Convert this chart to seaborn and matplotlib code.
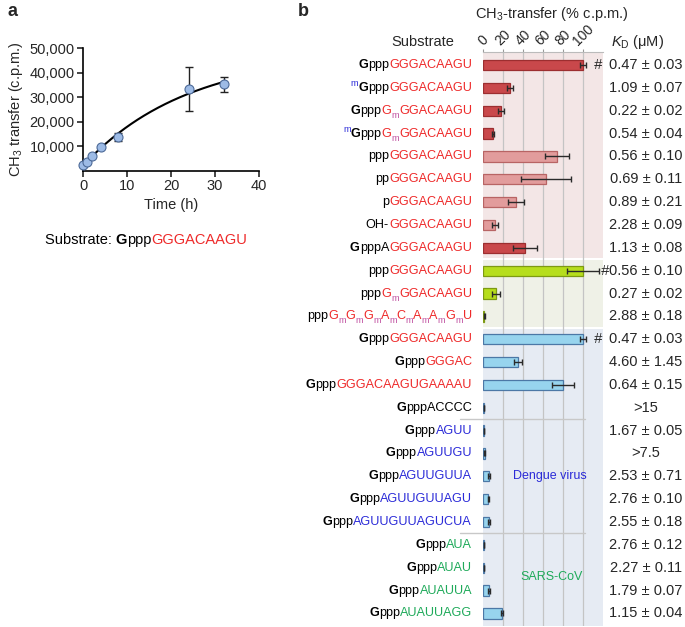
import numpy as np
import pandas as pd
import matplotlib
matplotlib.use('Agg')
import matplotlib.pyplot as plt
import seaborn as sns
from matplotlib.transforms import IdentityTransform
from matplotlib.font_manager import FontProperties

sns.set_style('white')
plt.rcParams['font.family'] = ['Liberation Sans', 'DejaVu Sans']
plt.rcParams['mathtext.fontset'] = 'custom'
plt.rcParams['mathtext.rm'] = 'Liberation Sans'
plt.rcParams['mathtext.it'] = 'Liberation Sans:italic'

# ---- panel a data
time_h = [0, 1, 2, 4, 8, 24, 32]
ch3_cpm = [2400, 3800, 6100, 9900, 13700, 33200, 35200]
ch3_err = [300, 300, 300, 400, 1600, 9000, 3200]

# ---- panel b data
substrates = [
    [('G', 'k', 1, None), ('ppp', 'k', 0, None), ('GGGACAAGU', 'R', 0, None)],
    [('m', 'B', 0, 'sup'), ('G', 'k', 1, None), ('ppp', 'k', 0, None), ('GGGACAAGU', 'R', 0, None)],
    [('G', 'k', 1, None), ('ppp', 'k', 0, None), ('G', 'R', 0, None), ('m', 'M', 0, 'sub'), ('GGACAAGU', 'R', 0, None)],
    [('m', 'B', 0, 'sup'), ('G', 'k', 1, None), ('ppp', 'k', 0, None), ('G', 'R', 0, None), ('m', 'M', 0, 'sub'), ('GGACAAGU', 'R', 0, None)],
    [('ppp', 'k', 0, None), ('GGGACAAGU', 'R', 0, None)],
    [('pp', 'k', 0, None), ('GGGACAAGU', 'R', 0, None)],
    [('p', 'k', 0, None), ('GGGACAAGU', 'R', 0, None)],
    [('OH-', 'k', 0, None), ('GGGACAAGU', 'R', 0, None)],
    [('G', 'k', 1, None), ('pppA', 'k', 0, None), ('GGGACAAGU', 'R', 0, None)],
    [('ppp', 'k', 0, None), ('GGGACAAGU', 'R', 0, None)],
    [('ppp', 'k', 0, None), ('G', 'R', 0, None), ('m', 'M', 0, 'sub'), ('GGACAAGU', 'R', 0, None)],
    [('ppp', 'k', 0, None)] + sum([[(c, 'R', 0, None), ('m', 'M', 0, 'sub')] for c in 'GGGACAAG'], []) + [('U', 'R', 0, None)],
    [('G', 'k', 1, None), ('ppp', 'k', 0, None), ('GGGACAAGU', 'R', 0, None)],
    [('G', 'k', 1, None), ('ppp', 'k', 0, None), ('GGGAC', 'R', 0, None)],
    [('G', 'k', 1, None), ('ppp', 'k', 0, None), ('GGGACAAGUGAAAAU', 'R', 0, None)],
    [('G', 'k', 1, None), ('pppACCCC', 'k', 0, None)],
    [('G', 'k', 1, None), ('ppp', 'k', 0, None), ('AGUU', 'B', 0, None)],
    [('G', 'k', 1, None), ('ppp', 'k', 0, None), ('AGUUGU', 'B', 0, None)],
    [('G', 'k', 1, None), ('ppp', 'k', 0, None), ('AGUUGUUA', 'B', 0, None)],
    [('G', 'k', 1, None), ('ppp', 'k', 0, None), ('AGUUGUUAGU', 'B', 0, None)],
    [('G', 'k', 1, None), ('ppp', 'k', 0, None), ('AGUUGUUAGUCUA', 'B', 0, None)],
    [('G', 'k', 1, None), ('ppp', 'k', 0, None), ('AUA', 'N', 0, None)],
    [('G', 'k', 1, None), ('ppp', 'k', 0, None), ('AUAU', 'N', 0, None)],
    [('G', 'k', 1, None), ('ppp', 'k', 0, None), ('AUAUUA', 'N', 0, None)],
    [('G', 'k', 1, None), ('ppp', 'k', 0, None), ('AUAUUAGG', 'N', 0, None)],
]
pct = [100, 27, 18, 10, 74, 63, 33, 12, 42,
       100, 13, 1,
       100, 35, 80, 0.6, 0.6, 1.5, 6, 5, 6, 0.6, 0.6, 6, 19]
pct_err = [3, 3, 3, 1, 12, 25, 8, 3, 12,
           16, 4, 0.5,
           3, 4, 11, 0, 0, 0.5, 1, 0.5, 1, 0, 0, 1, 1]
bar_kind = ['dark', 'dark', 'dark', 'dark', 'light', 'light', 'light', 'light', 'dark',
            'green', 'green', 'green'] + ['blue'] * 13
hash_rows = [0, 9, 12]
kd_text = ['0.47 ± 0.03', '1.09 ± 0.07', '0.22 ± 0.02', '0.54 ± 0.04', '0.56 ± 0.10',
           '0.69 ± 0.11', '0.89 ± 0.21', '2.28 ± 0.09', '1.13 ± 0.08',
           '0.56 ± 0.10', '0.27 ± 0.02', '2.88 ± 0.18',
           '0.47 ± 0.03', '4.60 ± 1.45', '0.64 ± 0.15', '>15', '1.67 ± 0.05', '>7.5',
           '2.53 ± 0.71', '2.76 ± 0.10', '2.55 ± 0.18', '2.76 ± 0.12', '2.27 ± 0.11',
           '1.79 ± 0.07', '1.15 ± 0.04']

text_colors = {'k': 'black', 'R': '#ee2a2a', 'B': '#2b2bd8', 'N': '#1faa5a', 'M': '#c050a0'}
fills = {'dark': '#c9484b', 'light': '#e29c9c', 'green': '#b6de1c', 'blue': '#97d4ee'}
edges = {'dark': '#9c2e30', 'light': '#b86464', 'green': '#7d9a12', 'blue': '#4c78a6'}

W, H = 685, 627
fig = plt.figure(figsize=(W / 100, H / 100), dpi=100)

# ================= panel a
axa = fig.add_axes([83 / W, 1 - 171 / H, 176 / W, 123 / H])
t = np.array(time_h, float)
y = np.array(ch3_cpm, float)
best = None
for k in np.linspace(0.005, 0.3, 600):
    X = np.column_stack([np.ones_like(t), 1 - np.exp(-k * t)])
    coef = np.linalg.lstsq(X, y, rcond=None)[0]
    r = np.sum((X @ coef - y) ** 2)
    if best is None or r < best[0]:
        best = (r, k, coef)
_, kfit, cfit = best
tt = np.linspace(0, 32, 200)
fit_df = pd.DataFrame({'t': tt, 'y': cfit[0] + cfit[1] * (1 - np.exp(-kfit * tt))})
sns.lineplot(data=fit_df, x='t', y='y', color='black', lw=1.5, ax=axa)
axa.errorbar(time_h, ch3_cpm, yerr=ch3_err, fmt='none', ecolor='#222222', elinewidth=1, capsize=3, zorder=3)
sns.scatterplot(x=time_h, y=ch3_cpm, s=42, color='#9dbbe6', edgecolor='#4d6a98', linewidth=0.8, zorder=4, ax=axa, clip_on=False)
axa.set_xlim(0, 40)
axa.set_ylim(0, 50000)
axa.set_xticks([0, 10, 20, 30, 40])
axa.set_yticks([10000, 20000, 30000, 40000, 50000])
axa.set_yticklabels([f'{v:,}' for v in [10000, 20000, 30000, 40000, 50000]])
axa.tick_params(labelsize=10.5, length=4, width=1.2, direction='out', left=True, bottom=True, pad=2)
for s in ['top', 'right']:
    axa.spines[s].set_visible(False)
for s in ['left', 'bottom']:
    axa.spines[s].set_linewidth(1.2)
    axa.spines[s].set_color('black')
axa.set_xlabel('Time (h)', fontsize=10.5, labelpad=3)
axa.set_ylabel(r'CH$_3$ transfer (c.p.m.)', fontsize=10.5, labelpad=3)
fig.text(8 / W, 1 - 12 / H, 'a', fontsize=13, weight='bold', va='center')

# ================= panel b
axb = fig.add_axes([483 / W, 1 / H, 120 / W, (626 - 52) / H])
n = len(pct)
ids = [str(i) for i in range(n)]
df = pd.DataFrame({'row': ids, 'pct': pct, 'err': pct_err, 'kind': bar_kind})
sns.barplot(data=df, y='row', x='pct', hue='row', order=ids, hue_order=ids,
            palette={i: fills[k] for i, k in zip(ids, bar_kind)}, legend=False, saturation=1,
            width=0.45, errorbar=None, linewidth=0.9, ax=axb, zorder=3)
for p in axb.patches:
    idx = int(round(p.get_y() + p.get_height() / 2))
    p.set_edgecolor(edges[bar_kind[idx]])
axb.errorbar(pct, np.arange(n), xerr=pct_err, fmt='none', ecolor='#2a2a2a', elinewidth=1, capsize=2.5, zorder=4)
axb.set_xlim(0, 120)
axb.set_ylim(n - 0.45, -0.57)

# background bands
bands = [(-0.57, 8.45, '#f3e6e6'), (8.55, 11.45, '#eff1e7'), (11.55, n - 0.45, '#e6ebf3')]
for y0, y1, c in bands:
    axb.axhspan(y0, y1, color=c, zorder=0, lw=0)
for xv in [20, 40, 60, 80, 100]:
    axb.axvline(xv, color='#c4c4c4', lw=0.9, zorder=1)
for yv in [15.5, 20.5]:
    axb.axhline(yv, xmin=-0.19, xmax=0.85, color='#c8c8c8', lw=1, clip_on=False, zorder=1)
for i in hash_rows:
    axb.text(min(pct[i] + pct_err[i] + 8, 118), i, '#', fontsize=10.5, style='italic',
             va='center', ha='left', zorder=5, clip_on=False)

axb.text(67, 18, 'Dengue virus', color='#2b2bd8', fontsize=9, ha='center', va='center', zorder=5)
axb.text(69, 22.4, 'SARS-CoV', color='#1faa5a', fontsize=9, ha='center', va='center', zorder=5)

axb.xaxis.tick_top()
axb.set_xticks([0, 20, 40, 60, 80, 100])
axb.set_xticklabels(['0', '20', '40', '60', '80', '100'], rotation=45, ha='center', fontsize=10)
axb.tick_params(axis='x', length=2, pad=1, top=True, color='#999999')
axb.set_yticks([])
axb.set_xlabel('')
axb.set_ylabel('')
for s in ['left', 'right', 'bottom']:
    axb.spines[s].set_visible(False)
axb.spines['top'].set_color('#bbbbbb')
axb.spines['top'].set_linewidth(0.8)

fig.text(298 / W, 1 - 12 / H, 'b', fontsize=13, weight='bold', va='center')
fig.text(552 / W, 1 - 14 / H, r'CH$_3$-transfer (% c.p.m.)', fontsize=10.5, ha='center', va='center')
fig.text(423 / W, 1 - 42 / H, 'Substrate', fontsize=10.5, ha='center', va='center')
fig.text(638 / W, 1 - 42 / H, r'$K_{\mathrm{D}}$ (μM)', fontsize=10.5, ha='center', va='center')

# rich labels: segments placed by advance width
fig.canvas.draw()
rend = fig.canvas.get_renderer()


def advance(txt, size, bold):
    fp = FontProperties(family='Liberation Sans', size=size, weight='bold' if bold else 'normal')
    w1 = rend.get_text_width_height_descent('|' + txt + '|', fp, ismath=False)[0]
    w0 = rend.get_text_width_height_descent('||', fp, ismath=False)[0]
    return w1 - w0


def rich(x, yc, segs, fs, align='right'):
    sizes = [fs * 0.72 if s[3] else fs for s in segs]
    widths = [advance(s[0], sz, s[2]) for s, sz in zip(segs, sizes)]
    total = sum(widths)
    cur = x - total if align == 'right' else x - total / 2
    for (txt, col, bold, shift), sz, w in zip(segs, sizes, widths):
        dy = {'sub': -4.5, 'sup': 4.5, None: 0}[shift]
        fig.text(cur, yc + dy, txt, color=text_colors[col], fontsize=sz,
                 family='Liberation Sans', weight='bold' if bold else 'normal',
                 ha='left', va='center', transform=IdentityTransform())
        cur += w


for i, segs in enumerate(substrates):
    yc = axb.transData.transform((0, i))[1]
    rich(472, yc, segs, 9.1)
    fig.text(646, yc, kd_text[i], fontsize=10.5, ha='center', va='center', transform=IdentityTransform())

# substrate line under panel a
segs_a = [('Substrate: ', 'k', 0, None), ('G', 'k', 1, None), ('ppp', 'k', 0, None), ('GGGACAAGU', 'R', 0, None)]
rich(146, H - 240, segs_a, 10.5, align='center')

fig.savefig('out.png', dpi=100)
